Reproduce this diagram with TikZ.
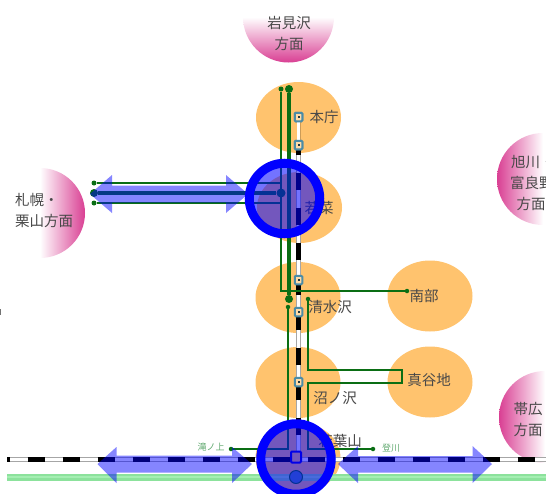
\documentclass[tikz,border=0pt]{standalone}
\usepackage{fontspec}
\setmainfont{Noto Sans CJK JP}
\usetikzlibrary{arrows.meta,shapes.geometric}
\definecolor{orng}{HTML}{FFC36E}
\definecolor{pinkd}{HTML}{D93F93}
\definecolor{pinkm}{HTML}{F6B4DC}
\definecolor{grn}{HTML}{0A6E14}
\definecolor{grnt}{HTML}{5FA86E}
\definecolor{lbl}{HTML}{484848}
\definecolor{teal2}{HTML}{4C8CA6}
\definecolor{railgo}{HTML}{8CE29C}
\definecolor{railgi}{HTML}{A4EEB2}
\tikzset{
  x=1pt,y=-1pt,
  area/.style={ellipse,fill=orng,inner sep=0pt,minimum width=85pt,minimum height=71pt},
  lab/.style={text=lbl,font=\fontsize{14.5}{17}\selectfont,inner sep=0pt},
  smalllab/.style={text=grnt,font=\fontsize{9}{10}\selectfont,inner sep=0pt},
  pt/.style={circle,fill=grn,inner sep=0pt,minimum size=#1},
  thinline/.style={draw=grn,line width=2.1pt},
  thickline/.style={draw=grn,line width=3.6pt},
  stn/.style={draw=teal2,fill=orng!60!white,line width=2pt,inner sep=0pt,minimum width=7.5pt,minimum height=8.5pt,rounded corners=1pt},
  stncore/.style={fill=teal2!40!black,inner sep=0pt,minimum size=2pt},
  railb/.style={draw=black!35,line width=4.8pt},
  railw/.style={draw=white,line width=3.2pt},
  railk/.style={draw=black,line width=4.8pt,dash pattern=on 17.5pt off 17.5pt},
  bigarrow/.style={fill=blue,fill opacity=.48},
  hubring/.style={circle,draw=blue,line width=9pt,inner sep=0pt,minimum size=70.5pt}
}
\begin{document}
\begin{tikzpicture}
\useasboundingbox (0,0) rectangle (546,493);
\begin{scope}
\clip (0,0) rectangle (546,493);
% direction half discs
\begin{scope}
\clip (288.5,17) circle[radius=45.5];
\shade[top color=white,middle color=pinkm,bottom color=pinkd] (240,17) rectangle (337,62.5);
\end{scope}
\begin{scope}
\clip (40,213) circle[radius=45];
\shade[left color=white,middle color=pinkm,right color=pinkd] (40,165) rectangle (85,261);
\end{scope}
\begin{scope}
\clip (543,179) circle[radius=46];
\shade[right color=white,middle color=pinkm,left color=pinkd] (497,130) rectangle (543,228);
\end{scope}
\begin{scope}
\clip (545,417) circle[radius=46];
\shade[right color=white,middle color=pinkm,left color=pinkd] (499,370) rectangle (545,465);
\end{scope}
% area ellipses
\node[area] (ahoncho) at (298.5,117.5) {};
\node[area] (awakana) at (299.5,207.5) {};
\node[area] (ashimizu) at (298,297.5) {};
\node[area] (anuma) at (298,382.5) {};
\node[area] (anambu) at (430,296) {};
\node[area] (amaya) at (430,382) {};
\node[area] (awakaba) at (298,458) {};
% rail coordinates
\coordinate (vtop) at (298.5,150);
\coordinate (vbot) at (298.5,459);
\coordinate (hl) at (7,459.5);
\coordinate (hr) at (546,459.5);
\coordinate (gl) at (7,477);
\coordinate (gr) at (546,477);
% horizontal rails
\path[draw=railgo,line width=7pt] (gl) -- (gr);
\path[draw=railgi,line width=2.5pt] (gl) -- (gr);
\path[railb] (hl) -- (hr);
\path[railw] (hl) -- (hr);
\path[railk,dash phase=14.5pt] (hl) -- (hr);
% vertical rail
\path[railb] (vtop) -- (vbot);
\path[railw] (vtop) -- (vbot);
\path[railk,dash phase=12.5pt] (vtop) -- (vbot);
% stations
\node[stn] (s1) at (298.5,117) {};
\node[stn] (s2) at (298.5,145) {};
\node[stn] (s3) at (298.5,280) {};
\node[stn] (s4) at (298.5,312) {};
\node[stn] (s5) at (298.5,382) {};
\path[draw=orng!80!black,line width=4pt] (s1) -- (s2);
\path[draw=white,line width=2.2pt] (s1) -- (s2);
\node[stn] at (s1) {};
\node[stn] at (s2) {};
\foreach \s in {s1,s2,s3,s4,s5}{\node[stncore] at (\s) {};}
% labels
\node[lab] at (324,117) {本庁};
\node[lab] at (319,208) {若菜};
\node[lab] at (330,307) {清水沢};
\node[lab] at (335,398) {沼ノ沢};
\node[lab] at (340,441) {若葉山};
\node[lab] at (424,296) {南部};
\node[lab] at (429,380) {真谷地};
\node[lab] at (289,23) {岩見沢};
\node[lab] at (289,44) {方面};
\node[lab,anchor=west] at (15,200) {札幌・};
\node[lab,anchor=west] at (15,221) {栗山方面};
\node[lab,anchor=west] at (511,162) {旭川・};
\node[lab,anchor=west] at (510,183) {富良野};
\node[lab] at (531,204) {方面};
\node[lab] at (528,409) {帯広};
\node[lab] at (528,430) {方面};
\node[smalllab] at (211,447) {滝ノ上};
\node[smalllab] at (391,448) {登川};
% green bus lines
\node[pt=5pt] (g1) at (281,89) {};
\node[pt=8pt] (g2) at (289,89) {};
\node[pt=8pt] (g3) at (289,299) {};
\node[pt=4.5pt] (g4) at (407,291) {};
\coordinate (c1) at (281,291);
\path[thinline] (g1) -- (c1) -- (g4);
\path[thickline] (g2) -- (g3);
\node[pt=5pt] (wa) at (94,183) {};
\node[pt=8pt] (wb) at (94,193) {};
\node[pt=5pt] (wc) at (94,203) {};
\coordinate (j1) at (281,183);
\coordinate (j3) at (281,203);
\node[pt=9pt] (jc) at (281,193) {};
\path[thinline] (wa) -- (j1);
\path[thinline] (wc) -- (j3);
\path[thickline] (wb) -- (jc);
\node[pt=4.5pt] (d1) at (231,449) {};
\node[pt=4.5pt] (d2) at (288,307) {};
\coordinate (e1) at (288,449);
\path[thinline] (d1) -- (e1) -- (d2);
\node[pt=4.5pt] (r1) at (308,299) {};
\node[pt=4.5pt] (r2) at (373,449) {};
\coordinate (f1) at (308,370);
\coordinate (f2) at (402,370);
\coordinate (f3) at (402,383);
\coordinate (f4) at (308,383);
\coordinate (f5) at (308,449);
\path[thinline] (r1) -- (f1) -- (f2) -- (f3) -- (f4) -- (f5) -- (r2);
% lower hub details
\node[stn,draw=blue!80!black,fill=orng,minimum width=10pt,minimum height=11pt] (hubs) at (296,457) {};
\node[circle,draw=grn,fill=teal2,line width=1pt,inner sep=0pt,minimum size=13pt] (hubb) at (296,477) {};
% double arrows
\path[bigarrow] (90,194) -- (112,175) -- (112,185.5) -- (226,185.5) -- (226,175) -- (248,194) -- (226,213) -- (226,202.5) -- (112,202.5) -- (112,213) -- cycle;
\path[bigarrow] (97.5,464) -- (116.5,447) -- (116.5,455.5) -- (232,455.5) -- (232,447) -- (252,464) -- (232,483) -- (232,472.5) -- (116.5,472.5) -- (116.5,483) -- cycle;
\path[bigarrow] (338,464) -- (358,446) -- (358,456) -- (472.5,456) -- (472.5,446) -- (492,464) -- (472.5,483) -- (472.5,472.5) -- (358,472.5) -- (358,483) -- cycle;
% hubs
\fill[blue,fill opacity=.55] (284.5,198.5) circle[radius=35.5];
\fill[blue,fill opacity=.55] (296,459) circle[radius=35.5];
\node[hubring] (hubu) at (284.5,198.5) {};
\node[hubring] (hubl) at (296,459) {};
\end{scope}
\fill[black!55] (0,309) rectangle (1,315);
\end{tikzpicture}
\end{document}
